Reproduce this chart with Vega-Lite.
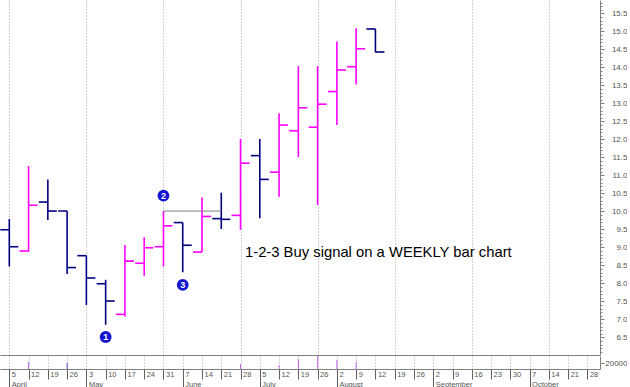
{
  "$schema": "https://vega.github.io/schema/vega-lite/v6.json",
  "padding": 0,
  "background": "white",
  "spacing": 0,
  "config": {"view": {"stroke": null}, "font": "Liberation Sans", "concat": {"spacing": 0}},
  "datasets": {
    "bars": [
      {"w": 0, "open": 9.49, "high": 9.79, "low": 8.47, "close": 9.02, "vol": 0},
      {"w": 1, "open": 8.9, "high": 11.26, "low": 8.88, "close": 10.17, "vol": 25300},
      {"w": 2, "open": 10.26, "high": 10.89, "low": 9.76, "close": 10.01, "vol": 0},
      {"w": 3, "open": 10.01, "high": 10.01, "low": 8.26, "close": 8.44, "vol": 21700},
      {"w": 4, "open": 8.77, "high": 8.77, "low": 7.4, "close": 8.15, "vol": 0},
      {"w": 5, "open": 7.99, "high": 8.1, "low": 6.85, "close": 7.51, "vol": 0},
      {"w": 6, "open": 7.14, "high": 9.07, "low": 7.08, "close": 8.62, "vol": 0},
      {"w": 7, "open": 8.56, "high": 9.28, "low": 8.21, "close": 8.99, "vol": 0},
      {"w": 8, "open": 9.02, "high": 10.01, "low": 8.47, "close": 9.6, "vol": 0},
      {"w": 9, "open": 9.69, "high": 9.69, "low": 8.31, "close": 9.06, "vol": 0},
      {"w": 10, "open": 8.87, "high": 10.39, "low": 8.87, "close": 9.86, "vol": 0},
      {"w": 11, "open": 9.8, "high": 10.52, "low": 9.51, "close": 9.78, "vol": 0},
      {"w": 12, "open": 9.89, "high": 12.01, "low": 9.49, "close": 11.34, "vol": 18000},
      {"w": 13, "open": 11.55, "high": 12.01, "low": 9.81, "close": 10.89, "vol": 0},
      {"w": 14, "open": 11.09, "high": 12.73, "low": 10.41, "close": 12.4, "vol": 14500},
      {"w": 15, "open": 12.24, "high": 14.04, "low": 11.51, "close": 12.88, "vol": 36000},
      {"w": 16, "open": 12.34, "high": 14.04, "low": 10.18, "close": 12.98, "vol": 47000},
      {"w": 17, "open": 13.33, "high": 14.72, "low": 12.4, "close": 13.93, "vol": 32500},
      {"w": 18, "open": 14.02, "high": 15.09, "low": 13.53, "close": 14.52, "vol": 25000},
      {"w": 19, "open": 15.07, "high": 15.07, "low": 14.42, "close": 14.43, "vol": 0}
    ],
    "markers": [
      {"w": 5, "y": 6.51, "label": "1"},
      {"w": 8, "y": 10.44, "label": "2"},
      {"w": 9, "y": 7.96, "label": "3"}
    ],
    "note": [
      {"w": 12.23, "y": 8.85, "text": "1-2-3 Buy signal on a WEEKLY bar chart"}
    ],
    "level": [
      {"w1": 8, "w2": 11, "y": 10.01}
    ],
    "months": [
      {"w": 0, "month": "April"},
      {"w": 4, "month": "May"},
      {"w": 9, "month": "June"},
      {"w": 13, "month": "July"},
      {"w": 17, "month": "August"},
      {"w": 22, "month": "September"},
      {"w": 27, "month": "October"}
    ]
  },
  "vconcat": [
    {
      "width": 600,
      "height": 355,
      "layer": [
        {
          "data": {"name": "bars"},
          "mark": {"type": "rule", "strokeWidth": 1.6},
          "encoding": {
            "x": {
              "field": "w", "type": "quantitative",
              "scale": {"domain": [-0.4826, 30.654], "nice": false, "zero": false},
              "axis": {
                "orient": "bottom",
                "values": [0,1,2,3,4,5,6,7,8,9,10,11,12,13,14,15,16,17,18,19,20,21,22,23,24,25,26,27,28,29,30],
                "grid": true, "gridColor": "#a8a8a8", "gridDash": [1, 2], "gridWidth": 1,
                "ticks": false, "labels": false, "domain": true, "domainColor": "#808080", "title": null
              }
            },
            "y": {
              "field": "low", "type": "quantitative",
              "scale": {"domain": [6.01, 15.875], "nice": false, "zero": false},
              "axis": {
                "orient": "right",
                "values": [6.5,7,7.5,8,8.5,9,9.5,10,10.5,11,11.5,12,12.5,13,13.5,14,14.5,15,15.5],
                "format": ".1f", "tickSize": 4, "tickColor": "#808080", "domainColor": "#808080",
                "labelAlign": "right", "labelPadding": 23, "labelFontSize": 8, "labelColor": "#555555",
                "grid": false, "title": null
              }
            },
            "y2": {"field": "high"},
            "color": {"condition": {"test": "datum.close >= datum.open", "value": "#ff00ff"}, "value": "#000080"}
          }
        },
        {
          "data": {"name": "bars"},
          "mark": {"type": "point", "opacity": 0},
          "encoding": {
            "x": {"field": "w", "type": "quantitative"},
            "y": {
              "field": "close", "type": "quantitative",
              "axis": {"orient": "right", "tickCount": 99, "tickSize": 2, "tickColor": "#808080", "labels": false, "domain": false, "grid": false, "title": null}
            }
          }
        },
        {
          "data": {"name": "bars"},
          "mark": {"type": "tick", "orient": "horizontal", "size": 9, "thickness": 1.6, "xOffset": -4.5, "opacity": 1},
          "encoding": {
            "x": {"field": "w", "type": "quantitative"},
            "y": {"field": "open", "type": "quantitative", "axis": null},
            "color": {"condition": {"test": "datum.close >= datum.open", "value": "#ff00ff"}, "value": "#000080"}
          }
        },
        {
          "data": {"name": "bars"},
          "mark": {"type": "tick", "orient": "horizontal", "size": 9, "thickness": 1.6, "xOffset": 4.5, "opacity": 1},
          "encoding": {
            "x": {"field": "w", "type": "quantitative"},
            "y": {"field": "close", "type": "quantitative", "axis": null},
            "color": {"condition": {"test": "datum.close >= datum.open", "value": "#ff00ff"}, "value": "#000080"}
          }
        },
        {
          "data": {"name": "level"},
          "mark": {"type": "rule", "color": "#808080", "strokeWidth": 1},
          "encoding": {
            "x": {"field": "w1", "type": "quantitative"},
            "x2": {"field": "w2"},
            "y": {"field": "y", "type": "quantitative", "axis": null}
          }
        },
        {
          "data": {"name": "markers"},
          "mark": {"type": "point", "filled": true, "size": 140, "color": "#1515d0", "opacity": 1},
          "encoding": {
            "x": {"field": "w", "type": "quantitative"},
            "y": {"field": "y", "type": "quantitative", "axis": null}
          }
        },
        {
          "data": {"name": "markers"},
          "mark": {"type": "text", "color": "white", "fontSize": 9, "fontWeight": "bold", "baseline": "middle", "align": "center"},
          "encoding": {
            "x": {"field": "w", "type": "quantitative"},
            "y": {"field": "y", "type": "quantitative", "axis": null},
            "text": {"field": "label"}
          }
        },
        {
          "data": {"name": "note"},
          "mark": {"type": "text", "color": "black", "fontSize": 14.8, "baseline": "middle", "align": "left"},
          "encoding": {
            "x": {"field": "w", "type": "quantitative"},
            "y": {"field": "y", "type": "quantitative", "axis": null},
            "text": {"field": "text"}
          }
        }
      ],
      "resolve": {"axis": {"y": "independent"}}
    },
    {
      "width": 600,
      "height": 13,
      "layer": [
        {
          "data": {"name": "bars"},
          "mark": {"type": "rule", "strokeWidth": 1, "opacity": 0.8},
          "encoding": {
            "x": {
              "field": "w", "type": "quantitative",
              "scale": {"domain": [-0.4826, 30.654], "nice": false, "zero": false},
              "axis": {
                "orient": "bottom",
                "values": [0,1,2,3,4,5,6,7,8,9,10,11,12,13,14,15,16,17,18,19,20,21,22,23,24,25,26,27,28,29,30],
                "grid": true, "gridColor": "#a8a8a8", "gridDash": [1, 2], "gridWidth": 1,
                "ticks": true, "tickSize": 10, "tickColor": "#606060",
                "domain": true, "domainColor": "#808080",
                "labelExpr": "['5','12','19','26','3','10','17','24','31','7','14','21','28','5','12','19','26','2','9','12','19','26','2','9','16','23','30','7','14','21','28'][datum.value]",
                "labelAlign": "left", "labelBaseline": "top", "labelPadding": -9, "labelOffset": 2,
                "labelFontSize": 7.5, "labelColor": "#555555",
                "labelFlush": false, "labelOverlap": false, "labelBound": false, "title": null
              }
            },
            "y": {
              "field": "vol", "type": "quantitative",
              "scale": {"domain": [0, 47000], "nice": false},
              "axis": {
                "orient": "right", "values": [20000], "format": "d",
                "tickSize": 4, "tickColor": "#808080", "domainColor": "#808080",
                "labelAlign": "right", "labelPadding": 23, "labelFontSize": 8, "labelColor": "#555555",
                "grid": false, "title": null
              }
            },
            "y2": {"datum": 0},
            "color": {"condition": {"test": "datum.close >= datum.open", "value": "#b040e0"}, "value": "#2020b0"}
          }
        },
        {
          "data": {"name": "months"},
          "mark": {"type": "rule", "opacity": 0},
          "encoding": {
            "x": {
              "field": "w", "type": "quantitative",
              "axis": {
                "orient": "bottom", "values": [0, 4, 9, 13, 17, 22, 27],
                "grid": false, "domain": false, "ticks": true, "tickSize": 19, "tickColor": "#606060",
                "labelExpr": "{'0':'April','4':'May','9':'June','13':'July','17':'August','22':'September','27':'October'}[datum.value]",
                "labelAlign": "left", "labelBaseline": "top", "labelPadding": -8, "labelOffset": 2,
                "labelFontSize": 7.5, "labelColor": "#555555",
                "labelFlush": false, "labelOverlap": false, "labelBound": false, "title": null
              }
            }
          }
        }
      ],
      "resolve": {"axis": {"x": "independent"}}
    }
  ]
}
